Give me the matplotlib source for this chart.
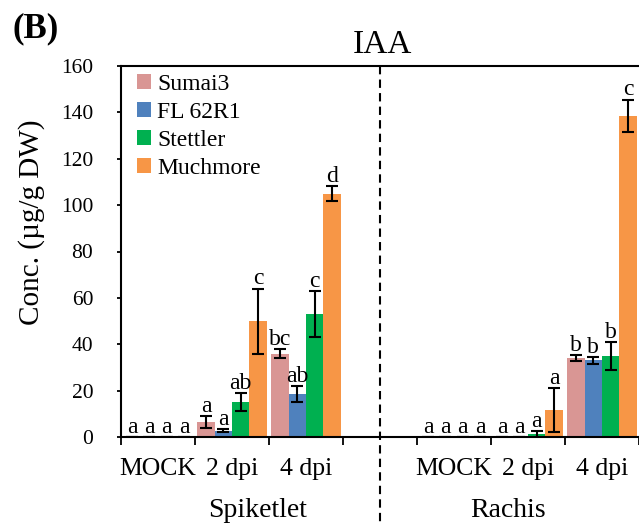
import matplotlib
matplotlib.use("Agg")
import matplotlib.pyplot as plt
import matplotlib.transforms as mtransforms
from matplotlib.patches import Patch
import numpy as np

plt.rcParams['font.family'] = ['Liberation Serif', 'DejaVu Serif']

# ---- data ----
categories = ["MOCK", "2 dpi", "4 dpi", "MOCK", "2 dpi", "4 dpi"]
cat_pos = [0, 1, 2, 4, 5, 6]
tissues = ["Spiketlet", "Rachis"]
cultivars = ["Sumai3", "FL 62R1", "Stettler", "Muchmore"]
colors = ["#D99694", "#4F81BD", "#00B050", "#F79646"]

sumai3 = [0, 6.5, 36, 0, 0, 34]
sumai3_err = [0, 2.5, 1.8, 0, 0, 1.2]
fl62r1 = [0, 2.7, 18.5, 0, 0, 33]
fl62r1_err = [0, 0.6, 3.5, 0, 0, 1.5]
stettler = [0, 15, 53, 0, 1.2, 35]
stettler_err = [0, 4, 10, 0, 1.5, 6]
muchmore = [0, 50, 105, 0, 11.5, 138.5]
muchmore_err = [0, 14, 3.3, 0, 9.5, 7]

sumai3_let = ["a", "a", "bc", "a", "a", "b"]
fl62r1_let = ["a", "a", "ab", "a", "a", "b"]
stettler_let = ["a", "ab", "c", "a", "a", "b"]
muchmore_let = ["a", "c", "d", "a", "a", "c"]

values = [sumai3, fl62r1, stettler, muchmore]
errors = [sumai3_err, fl62r1_err, stettler_err, muchmore_err]
letters = [sumai3_let, fl62r1_let, stettler_let, muchmore_let]

# ---- figure ----
W, H = 639, 525
fig = plt.figure(figsize=(W / 100, H / 100), dpi=100)
ax = fig.add_axes([121 / W, 1 - 437 / H, (639 - 121) / W, (437 - 66) / H])

bw = 0.235
for i in range(4):
    x = np.array(cat_pos) + 0.5 + (i - 1.5) * bw
    ax.bar(x, values[i], width=bw, color=colors[i], edgecolor='none', zorder=2)
    ax.errorbar(x, values[i], yerr=errors[i], fmt='none', ecolor='black',
                elinewidth=1.5, capsize=4, capthick=1.5, zorder=3)
    for xi, v, e, l in zip(x, values[i], errors[i], letters[i]):
        ax.annotate(l, (xi, v + e), xytext=(0, 3), textcoords='offset points',
                    ha='center', va='baseline', fontsize=17)

ax.set_xlim(0, 7)
ax.set_ylim(0, 160)
ax.set_yticks(np.arange(0, 161, 20))
ax.set_xticks(np.arange(0, 8))
ax.set_xticklabels([])
ax.set_xticks(np.array(cat_pos) + 0.5, minor=True)
ax.set_xticklabels(categories, minor=True)
ax.tick_params(axis='x', which='major', direction='out', length=6, width=1.3)
ax.tick_params(axis='x', which='minor', length=0, labelsize=18.5, pad=15)
ax.tick_params(axis='y', direction='out', length=3, width=1.3, labelsize=15.5, pad=17)
for s in ['left', 'bottom', 'top']:
    ax.spines[s].set_linewidth(1.5)
ax.spines['right'].set_visible(False)

# dashed separator
trans = mtransforms.blended_transform_factory(ax.transData, ax.transAxes)
ax.plot([3.5, 3.5], [1.0, -0.25], transform=trans, color='black', lw=1.5,
        linestyle=(0, (4, 2.5)), clip_on=False)

# legend
handles = [Patch(facecolor=c, edgecolor='none') for c in colors]
ax.legend(handles, cultivars, loc='upper left',
          bbox_to_anchor=((137 - 121) / 518, 1 - 8 / 371),
          frameon=False, fontsize=17, handlelength=0.6, handleheight=0.6,
          handletextpad=0.25, labelspacing=0.3, borderpad=0, borderaxespad=0)

# text
fig.text(258 / W, 1 - 517 / H, tissues[0], ha='center', va='baseline', fontsize=20)
fig.text(508 / W, 1 - 517 / H, tissues[1], ha='center', va='baseline', fontsize=20)
fig.text(382 / W, 1 - 53 / H, "IAA", ha='center', va='baseline', fontsize=24)
fig.text(13 / W, 1 - 37 / H, "(B)", ha='left', va='baseline', fontsize=25, fontweight='bold')
fig.text(32 / W, 1 - 222 / H, "Conc. (µg/g DW)", rotation=90, ha='center', va='center', fontsize=21)

fig.savefig("out.png", dpi=100)
